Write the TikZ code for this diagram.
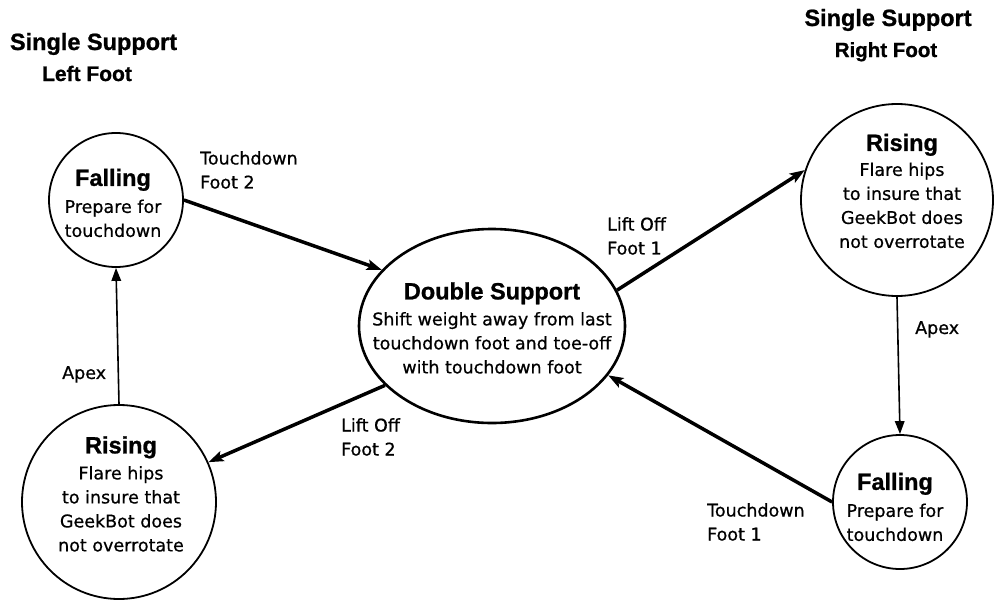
\documentclass[tikz,border=0pt]{standalone}
\usepackage{fontspec}
\setmainfont{DejaVu Sans}[FakeBold=0.7]
\newfontfamily\hdfont{Liberation Sans}[BoldFeatures={FakeBold=1}]
\usetikzlibrary{arrows.meta,shapes.geometric}
\newcommand\stitle[1]{{\hdfont\bfseries\fontsize{23.5}{28}\selectfont #1}}
\begin{document}
\begin{tikzpicture}[x=1pt,y=-1pt,
  state/.style={circle,draw,line width=1.8pt,inner sep=0pt},
  body/.style={align=center,inner sep=0pt,font=\fontsize{17.5}{24}\selectfont},
  lbl/.style={align=left,inner sep=0pt,anchor=north west,font=\fontsize{17.5}{24}\selectfont},
  head/.style={inner sep=0pt,anchor=base,font=\hdfont\bfseries},
  thickarrow/.style={line width=3.5pt,-{Stealth[length=15pt,width=10.5pt,inset=3pt]}},
  thinarrow/.style={line width=1.6pt,-{Triangle[length=13pt,width=9.5pt]}}]
\useasboundingbox (0,0) rectangle (994,600);

% headings
\node[head,font=\hdfont\bfseries\fontsize{23.5}{28}\selectfont] (hl1) at (93.5,50) {Single Support};
\node[head,font=\hdfont\bfseries\fontsize{21}{24}\selectfont] (hl2) at (87,81) {Left Foot};
\node[head,font=\hdfont\bfseries\fontsize{23.5}{28}\selectfont] (hr1) at (888,26) {Single Support};
\node[head,font=\hdfont\bfseries\fontsize{20.5}{24}\selectfont] (hr2) at (886,57) {Right Foot};

% states
\node[state,minimum size=134pt] (lf) at (116,200) {};
\node[state,minimum size=194pt] (lr) at (119,502) {};
\node[state,minimum size=192pt] (rr) at (897,200) {};
\node[state,minimum size=134pt] (rf) at (900,502) {};
\node[ellipse,draw,line width=2.6pt,minimum width=266pt,minimum height=194pt,inner sep=0pt] (ds) at (492,326) {};

% state texts
\node[body] (lftxt) at (113,203) {\stitle{Falling}\\[3pt]Prepare for\\touchdown};
\node[body] (lrtxt) at (121,494) {\stitle{Rising}\\[2pt]Flare hips\\to insure that\\GeekBot does\\not overrotate};
\node[body] (rrtxt) at (902,191) {\stitle{Rising}\\[1pt]Flare hips\\to insure that\\GeekBot does\\not overrotate};
\node[body] (rftxt) at (895,507) {\stitle{Falling}\\[3pt]Prepare for\\touchdown};
\node[body] (dstxt) at (492,328) {\stitle{Double Support}\\[2pt]Shift weight away from last\\touchdown foot and toe-off\\with touchdown foot};

% connectors
\draw[thickarrow] (lf.east) -- (ds.153);
\draw[thickarrow] (ds.16) -- (rr.162);
\draw[thinarrow] (rr.south) -- (rf.north);
\draw[thickarrow] (rf.west) -- (ds.-23);
\draw[thickarrow] (ds.209) -- (lr.24);
\draw[thinarrow] (lr.north) -- (lf.south);

% labels
\node[lbl] (l1) at (200,151) {Touchdown\\Foot 2};
\node[lbl] (l2) at (607,217) {Lift Off\\Foot 1};
\node[lbl] (l3) at (915,321) {Apex};
\node[lbl] (l4) at (707,503) {Touchdown\\Foot 1};
\node[lbl] (l5) at (341,418) {Lift Off\\Foot 2};
\node[lbl] (l6) at (62,366) {Apex};
\end{tikzpicture}
\end{document}
